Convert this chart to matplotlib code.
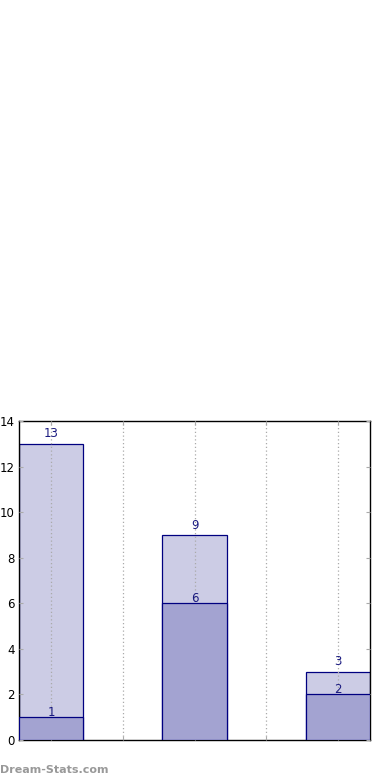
import matplotlib
matplotlib.use("Agg")
import matplotlib.pyplot as plt

categories = [0, 1, 2]
totals = [13, 9, 3]
lower = [1, 6, 2]
yticks = [0, 2, 4, 6, 8, 10, 12, 14]

fig = plt.figure(figsize=(3.9, 7.8), dpi=100)
ax = fig.add_axes([19/390, 40/780, 351/390, 319/780])

w = 0.45
ax.bar(categories, totals, width=w, color="#cccce5", edgecolor="#000080", linewidth=0.9, zorder=2)
ax.bar(categories, lower, width=w, color="#a3a3d1", edgecolor="#000080", linewidth=0.9, zorder=3)

for x, t, l in zip(categories, totals, lower):
    ax.text(x, t + 0.15, str(t), ha="center", va="bottom", fontsize=8.5, color="#1a1a80", zorder=5)
    ax.text(x, l + 0.2, str(l), ha="center", va="center", fontsize=8.5, color="#1a1a80", zorder=5)

ax.set_xlim(-0.225, 2.225)
ax.set_ylim(0, 14)
ax.set_yticks(yticks)
ax.set_xticks([0, 0.5, 1, 1.5, 2])
ax.set_xticklabels([])
ax.tick_params(axis="both", labelsize=8.5, length=3, color="#aaaaaa", direction="in", pad=3)
ax.tick_params(axis="y", right=True)
ax.tick_params(axis="x", top=True)
ax.xaxis.grid(True, linestyle=(0, (1, 2)), color="#aaaaaa", linewidth=0.9, zorder=4)
ax.set_axisbelow(False)
for s in ax.spines.values():
    s.set_linewidth(1.0)
    s.set_color("black")

fig.text(0.0, 10/780, "Dream-Stats.com", fontsize=8, color="#999999", fontweight="bold", ha="left", va="center")

fig.savefig("out.png", dpi=100)
